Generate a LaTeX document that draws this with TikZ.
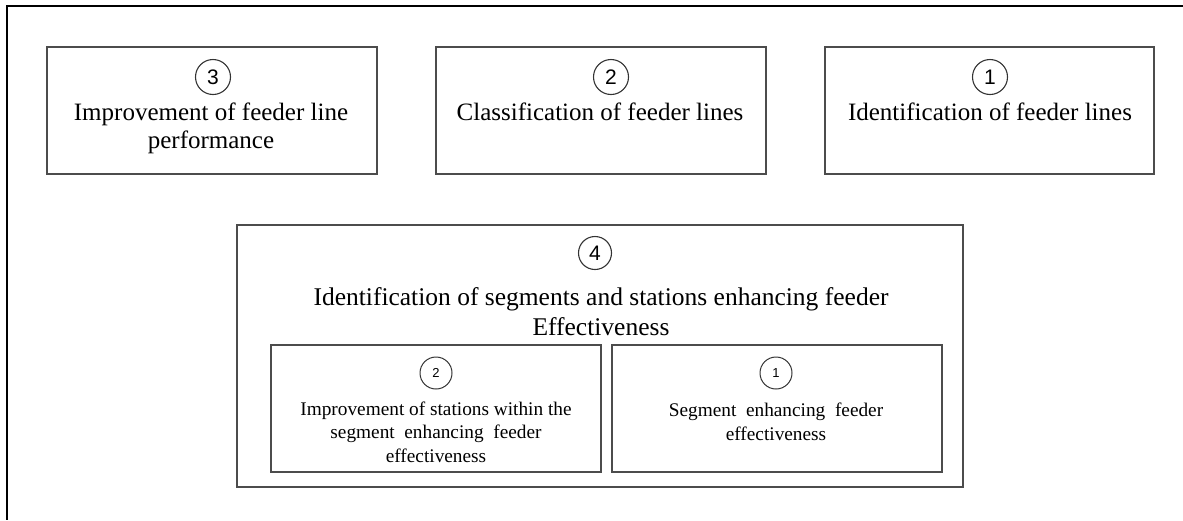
\documentclass[tikz,border=0pt]{standalone}
\usepackage{fontspec}
\setmainfont{Liberation Serif}
\newfontfamily\digitfont{Liberation Sans}
\begin{document}
\begin{tikzpicture}[x=1pt,y=-1pt,
  box/.style={draw=black!70,line width=1.6pt,rectangle,inner sep=0pt},
  numcircle/.style={draw=black!80,line width=1.1pt,circle,inner sep=0pt,font=\digitfont\fontsize{21}{21}\selectfont},
  smallcircle/.style={draw=black!80,line width=1pt,circle,inner sep=0pt,font=\digitfont\fontsize{13}{13}\selectfont},
  bigtext/.style={anchor=base,align=center,inner sep=0pt,font=\fontsize{25}{28}\selectfont},
  titletext/.style={anchor=base,align=center,inner sep=0pt,font=\fontsize{25.5}{30}\selectfont},
  smalltext/.style={anchor=base,align=center,inner sep=0pt,font=\fontsize{19.3}{23.5}\selectfont}]
\useasboundingbox (0,0) rectangle (1183,520);
\coordinate (frameTR) at (1183,6);
\coordinate (frameTL) at (7,6);
\coordinate (frameBL) at (7,520);
\draw[line width=1.8pt,black] (frameTR) -- (frameTL) -- (frameBL);

% top boxes
\node[box,minimum width=330,minimum height=127] (b3) at (212,110.5) {};
\node[box,minimum width=330,minimum height=127] (b2) at (601,110.5) {};
\node[box,minimum width=329,minimum height=127] (b1) at (989.5,110.5) {};

\node[numcircle,minimum size=35] (c3) at (213,77) {3};
\node[numcircle,minimum size=35] (c2) at (611,77) {2};
\node[numcircle,minimum size=35] (c1) at (990,77) {1};

\node[bigtext] (t3) at (211,148) {Improvement of feeder line\\performance};
\node[bigtext] (t2) at (600,120) {Classification of feeder lines};
\node[bigtext] (t1) at (990,120) {Identification of feeder lines};

% bottom big box
\node[box,minimum width=726,minimum height=262] (b4) at (600,356) {};
\node[numcircle,minimum size=33] (c4) at (595,253) {4};
\node[titletext] (t4) at (601,335) {Identification of segments and stations enhancing feeder\\Effectiveness};

\node[box,minimum width=330,minimum height=127] (ib2) at (436,408.5) {};
\node[box,minimum width=330,minimum height=127] (ib1) at (777,408.5) {};
\node[smallcircle,minimum size=32] (ic2) at (436,373) {2};
\node[smallcircle,minimum size=32] (ic1) at (776,373) {1};
\node[smalltext] (it2) at (436,462) {Improvement of stations within the\\segment\ \ enhancing\ \ feeder\\effectiveness};
\node[smalltext] (it1) at (776,440) {Segment\ \ enhancing\ \ feeder\\effectiveness};
\end{tikzpicture}
\end{document}
